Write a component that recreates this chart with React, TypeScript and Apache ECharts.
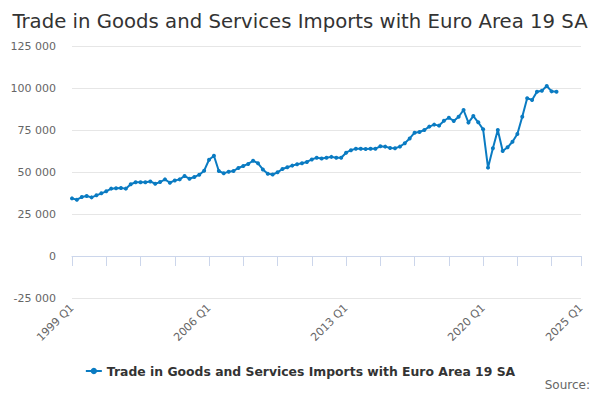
import React, { useEffect, useRef } from 'react';
import * as echarts from 'echarts';

type EChartsOption = echarts.EChartsOption;

const seriesName = 'Trade in Goods and Services Imports with Euro Area 19 SA';

// quarters from 1999 Q1 to 2025 Q1
const firstYear = 1999;
const lastYear = 2025;
const quarters: string[] = [];
for (let y = firstYear; y <= lastYear; y++) {
  for (let q = 1; q <= 4; q++) {
    if (y === lastYear && q > 1) break;
    quarters.push(`${y} Q${q}`);
  }
}

// imports, 1999 Q1 .. 2023 Q4
const imports = [
  34300, 33500, 35100, 35700, 34900, 36100, 37300, 38500, 40100, 40300,
  40500, 40100, 42700, 43900, 43900, 43900, 44400, 43000, 44000, 45600,
  43600, 45000, 45600, 47600, 46000, 47000, 48400, 50800, 57300, 59700,
  50600, 49200, 50200, 50600, 52400, 53600, 54800, 56700, 55200, 51500,
  49000, 48500, 49800, 51800, 52800, 53800, 54600, 55200, 56000, 57500,
  58500, 58000, 58500, 59000, 58500, 58500, 61500, 63000, 63800, 63900,
  63700, 63900, 63900, 65300, 65100, 64300, 64100, 65100, 67100, 70000,
  73400, 73800, 75000, 77000, 78200, 77600, 80500, 82300, 80400, 82900,
  86900, 79400, 83300, 79600, 75400, 52600, 64100, 75000, 62500, 64700,
  68000, 72600, 82900, 93900, 92900, 97800, 98400, 101200, 98000, 97800,
];

const yMin = -25000;
const yMax = 125000;
const yStep = 25000;

const fmt = (v: number) => {
  const s = Math.abs(v).toString().replace(/\B(?=(\d{3})+(?!\d))/g, ' ');
  return v < 0 ? `-${s}` : s;
};

const App: React.FC = () => {
  const chartRef = useRef<HTMLDivElement>(null);

  useEffect(() => {
    if (!chartRef.current) return;
    const chart = echarts.init(chartRef.current, null, { renderer: 'svg' });
    const last = quarters.length - 1;

    const option: EChartsOption = {
      animation: false,
      textStyle: { fontFamily: 'DejaVu Sans' },
      title: {
        text: 'Trade in Goods and Services Imports with Euro Area 19 SA',
        left: 'center',
        top: 6,
        textStyle: { fontSize: 19.7, fontWeight: 'normal', color: '#333' }
      },
      legend: {
        bottom: 18,
        left: 'center',
        itemWidth: 16,
        itemHeight: 8,
        itemGap: 10,
        textStyle: { fontSize: 12.4, fontWeight: 'bold', color: '#333' }
      },
      grid: { left: 72, right: 19, top: 46, bottom: 102 },
      xAxis: {
        type: 'category',
        data: quarters,
        boundaryGap: false,
        axisLine: { lineStyle: { color: '#ccd6eb' } },
        axisTick: {
          length: 10,
          lineStyle: { color: '#ccd6eb' },
          interval: (i: number) => i % 7 === 0 || i === last
        },
        axisLabel: {
          rotate: 45,
          fontSize: 11,
          color: '#666',
          margin: 8,
          interval: (i: number) => i % 28 === 0 || i === last
        },
        splitLine: { show: false }
      },
      yAxis: {
        type: 'value',
        min: yMin,
        max: yMax,
        interval: yStep,
        axisLine: { show: false },
        axisTick: { show: false },
        axisLabel: { fontSize: 11, color: '#666', margin: 16, formatter: (v: number) => fmt(v) },
        splitLine: { lineStyle: { color: '#e6e6e6' } }
      },
      series: [
        {
          name: seriesName,
          type: 'line',
          data: imports,
          color: '#0a7bc2',
          lineStyle: { width: 2 },
          symbol: 'circle',
          symbolSize: 4,
          showSymbol: true,
          showAllSymbol: true
        }
      ],
      graphic: [
        {
          type: 'text',
          right: 10,
          top: 379,
          style: { text: 'Source:', fontSize: 12, fill: '#666', fontFamily: 'DejaVu Sans' }
        }
      ]
    };

    chart.setOption(option);
    return () => {
      chart.dispose();
    };
  }, []);

  return <div ref={chartRef} style={{ width: 600, height: 400, margin: -8 }} />;
};

export default App;
